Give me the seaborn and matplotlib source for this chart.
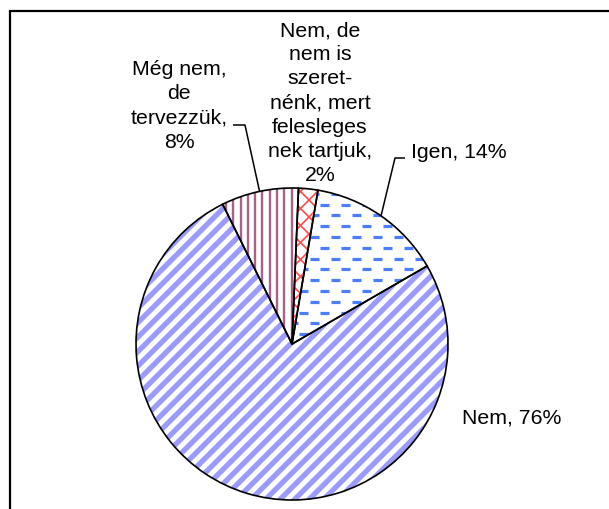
import numpy as np
import matplotlib
matplotlib.use("Agg")
import matplotlib.pyplot as plt
import seaborn as sns
from matplotlib.collections import LineCollection
from matplotlib.patches import Wedge, Rectangle

# Survey answers and their shares (%)
categories = ["Igen", "Nem", "Még nem, de tervezzük",
              "Nem, de nem is szeretnénk, mert feleslegesnek tartjuk"]
label_text = ["Igen", "Nem", "Még nem,\nde\ntervezzük",
              "Nem, de\nnem is\nszeret-\nnénk, mert\nfelesleges\nnek tartjuk"]
shares = [14, 76, 8, 2]

sns.set_theme(style="white")
plt.rcParams["font.family"] = ["Liberation Sans", "DejaVu Sans"]

W, H = 609, 510
fig = plt.figure(figsize=(W / 100, H / 100), dpi=100)
ax = fig.add_axes([0, 0, 1, 1])

cx, cy, r = 292, H - 345, 156
wedges, _ = ax.pie(shares, colors=["white"] * len(shares), startangle=80.4,
                   counterclock=False, center=(cx, cy), radius=r, frame=True,
                   wedgeprops=dict(linewidth=0, zorder=1))
ax.set_xlim(0, W)
ax.set_ylim(0, H)
ax.set_axis_off()

x0, x1, y0, y1 = cx - r - 5, cx + r + 5, cy - r - 5, cy + r + 5


def diagonal(period, sign=1):
    segs = []
    for c in np.arange(-2 * r - 20, 2 * r + 20, period):
        segs.append([(x0, cy + sign * (x0 - cx) + c), (x1, cy + sign * (x1 - cx) + c)])
    return segs


def vertical(period):
    return [[(x, y0), (x, y1)] for x in np.arange(x0, x1, period)]


def dashes(row_step, dash_step, dash_len):
    segs = []
    for k, y in enumerate(np.arange(y1, y0, -row_step)):
        off = (k % 2) * dash_step / 2
        for x in np.arange(x0 - dash_step + off, x1, dash_step):
            segs.append([(x, y), (x + dash_len, y)])
    return segs


patterns = [
    (dashes(10.8, 21, 9), "#4a7dff", 2.3),
    (diagonal(14.5), "#9a9aff", 3.8),
    (vertical(7.3), "#a8628a", 1.7),
    (diagonal(17) + diagonal(17, -1), "#ff4a4a", 1.2),
]

for w, (segs, col, lw) in zip(wedges, patterns):
    lc = LineCollection(segs, colors=col, linewidths=lw, capstyle="butt", zorder=2)
    ax.add_collection(lc)
    lc.set_clip_path(w)
    ax.add_patch(Wedge(w.center, w.r, w.theta1, w.theta2, fill=False,
                       edgecolor="black", linewidth=1.2, zorder=3))

seps = [", ", ", ", ",\n", ",\n"]
labels = [f"{t}{s}{v}%" for t, s, v in zip(label_text, seps, shares)]
label_pos = [(411, 152, "left"), (462, 418, "left"),
             (179, 106, "center"), (320, 103, "center")]
for lab, (lx, ly, ha) in zip(labels, label_pos):
    ax.text(lx, H - ly, lab, ha=ha, va="center", multialignment="center",
            fontsize=15.3, color="black", linespacing=1.34, zorder=4)

# leader lines from the outer labels to the slice midpoints
leaders = {0: [(405, 159), (395, 159)], 2: [(233, 126), (245, 126)]}
for i, pts in leaders.items():
    w = wedges[i]
    mid = np.deg2rad((w.theta1 + w.theta2) / 2)
    ex, ey = cx + r * np.cos(mid), cy + r * np.sin(mid)
    xs = [p[0] for p in pts] + [ex]
    ys = [H - p[1] for p in pts] + [ey]
    ax.plot(xs, ys, color="black", linewidth=1.1, zorder=4,
            solid_capstyle="butt")

# chart-area border
ax.add_patch(Rectangle((9.5, -10), W, H - 12 + 10, fill=False,
                       edgecolor="black", linewidth=1.6, clip_on=False, zorder=5))

fig.savefig("out.png", dpi=100)
